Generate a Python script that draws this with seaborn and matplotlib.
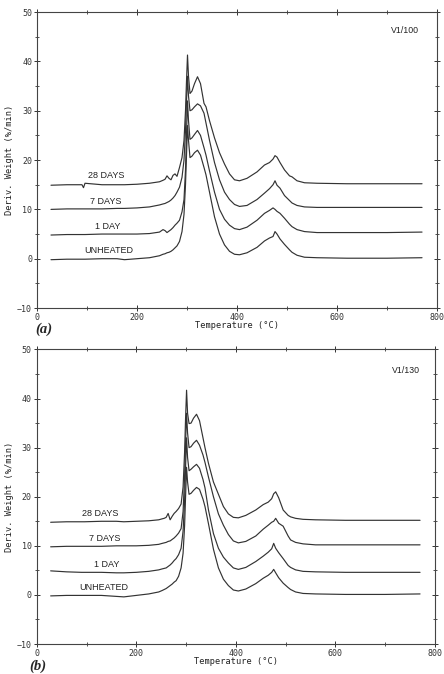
import numpy as np
import pandas as pd
import matplotlib
matplotlib.use("Agg")
import matplotlib.pyplot as plt
import seaborn as sns
from matplotlib.ticker import MultipleLocator

sns.set_style("ticks")
plt.rcParams['font.family'] = ['DejaVu Sans Mono']

# 温度网格 (°C)，两幅图共用
temps = [28, 60, 90, 93, 96, 130, 160, 175, 200, 225, 245, 252, 256, 260, 264, 268,
         272, 276, 280, 285, 290, 294, 297, 299, 301, 303, 306, 310, 315, 321, 327,
         334, 338, 345, 355, 365, 375, 385, 395, 405, 420, 440, 455, 465, 472, 476,
         480, 486, 495, 505, 510, 520, 535, 560, 620, 700, 770]

# (a) V1/100
a_unheated = [-0.2, -0.1, -0.1, -0.1, -0.1, 0.0, 0.0, -0.2, 0.0, 0.2, 0.6, 0.9, 1.0, 1.2, 1.3, 1.5,
              1.8, 2.2, 2.6, 3.5, 5.5, 9, 15, 21, 27, 24, 20.5, 20.8, 21.5, 22.0, 21.0,
              18.5, 17, 13.5, 8.5, 5.0, 2.8, 1.5, 0.9, 0.8, 1.2, 2.3, 3.6, 4.2, 4.5, 5.5,
              5.0, 4.0, 2.9, 1.8, 1.3, 0.7, 0.3, 0.2, 0.1, 0.1, 0.2]
a_1day = [4.8, 4.9, 4.9, 4.9, 4.9, 5.0, 5.0, 5.0, 5.0, 5.1, 5.4, 5.9, 5.7, 5.3, 5.6, 5.9,
          6.3, 6.8, 7.2, 7.8, 9.5, 12, 18, 25, 32, 28, 24.2, 24.5, 25.2, 26.0, 25.0,
          22.5, 21, 17.8, 13.5, 10.0, 8.0, 6.8, 6.1, 5.9, 6.4, 7.8, 9.2, 9.8, 10.3, 10.0,
          9.6, 9.2, 8.2, 7.0, 6.5, 5.9, 5.5, 5.3, 5.3, 5.3, 5.4]
a_7days = [10.0, 10.1, 10.1, 10.1, 10.1, 10.1, 10.2, 10.2, 10.3, 10.5, 10.9, 11.1, 11.2, 11.4, 11.6, 11.9,
           12.3, 12.8, 13.5, 14.5, 16.5, 20, 26, 32, 37, 33, 30, 30.2, 30.8, 31.4, 31.0,
           29.5, 27.5, 24, 19.5, 16, 13.5, 12.0, 11.0, 10.6, 10.8, 12.0, 13.3, 14.2, 15.0, 15.8,
           14.9, 14.3, 12.8, 11.8, 11.3, 10.8, 10.5, 10.4, 10.4, 10.4, 10.4]
a_28days = [14.9, 15.0, 15.0, 14.4, 15.3, 15.0, 15.0, 15.0, 15.1, 15.3, 15.6, 15.9, 16.1, 16.8, 16.3, 16.0,
            16.9, 17.2, 16.7, 18.5, 20.5, 24, 30, 36, 41.3, 37, 33.5, 34, 35.5, 36.9, 35.5,
            31.5, 30.8, 28, 24.5, 21.5, 19.2, 17.2, 16.0, 15.8, 16.3, 17.6, 19.0, 19.5, 20.2, 20.9,
            20.6, 19.5, 18.0, 16.8, 16.6, 15.8, 15.4, 15.3, 15.2, 15.2, 15.2]

# (b) V1/130
b_unheated = [-0.2, -0.1, -0.1, -0.1, -0.1, -0.1, -0.3, -0.4, -0.1, 0.2, 0.6, 0.9, 1.1, 1.3, 1.6, 1.9,
              2.2, 2.6, 2.9, 3.8, 5.5, 8.5, 14, 20, 26, 23, 20.5, 20.7, 21.3, 21.9, 21.5,
              19.5, 18, 14.5, 9.3, 5.5, 3.2, 1.9, 1.0, 0.8, 1.2, 2.3, 3.4, 4.0, 4.6, 5.2,
              4.5, 3.5, 2.4, 1.5, 1.1, 0.6, 0.3, 0.2, 0.1, 0.1, 0.2]
b_1day = [4.9, 4.7, 4.6, 4.6, 4.6, 4.6, 4.5, 4.5, 4.6, 4.8, 5.1, 5.3, 5.4, 5.5, 5.8, 6.1,
          6.5, 7.0, 7.4, 8.2, 9.5, 13, 19, 26, 32, 28, 25.3, 25.6, 26.1, 26.6, 25.8,
          23.5, 21.8, 17.3, 12.5, 9.5, 7.7, 6.5, 5.5, 5.2, 5.6, 6.8, 7.9, 8.7, 9.4, 10.5,
          9.5, 8.6, 7.4, 6.0, 5.6, 5.1, 4.8, 4.7, 4.6, 4.6, 4.6]
b_7days = [9.8, 9.9, 9.9, 9.9, 9.9, 9.9, 10.0, 10.0, 10.0, 10.1, 10.3, 10.5, 10.6, 10.7, 10.9, 11.0,
           11.3, 11.6, 12.0, 12.6, 13.5, 17, 24, 31, 37, 33, 30, 30.2, 30.9, 31.5, 30.5,
           28.5, 27.0, 24.0, 20.0, 16.5, 14.2, 12.3, 11.0, 10.6, 10.9, 12.0, 13.4, 14.2, 14.8, 15.0,
           15.6, 14.6, 14.0, 12.0, 11.2, 10.7, 10.4, 10.2, 10.2, 10.2, 10.2]
b_28days = [14.8, 14.9, 14.9, 14.9, 14.9, 15.0, 15.0, 14.9, 15.0, 15.1, 15.3, 15.5, 15.6, 15.8, 16.6, 15.3,
            16.0, 16.6, 17.0, 17.6, 18.5, 22, 29, 36, 41.7, 37, 34.9, 35.0, 36.0, 36.8, 35.5,
            32.0, 30.0, 26.8, 23.0, 20.5, 18.0, 16.5, 15.8, 15.7, 16.2, 17.3, 18.4, 18.9, 19.6, 20.6,
            21.0, 19.8, 17.3, 16.2, 15.9, 15.6, 15.4, 15.3, 15.2, 15.2, 15.2]

curve_names = ["UNHEATED", "1 DAY", "7 DAYS", "28 DAYS"]
a_label_pos = [(143, 1.6), (141, 6.5), (138, 11.7), (138, 16.8)]
b_label_pos = [(135, 1.5), (140, 6.1), (137, 11.5), (127, 16.5)]

panels = [
    dict(series=[a_unheated, a_1day, a_7days, a_28days], labels=a_label_pos,
         tag="V1/100", tag_pos=(736, 46.2), letter="(a)", letter_pos=(0.098, 0.511),
         rect=[0.0833, 0.543, 0.901, 0.439]),
    dict(series=[b_unheated, b_1day, b_7days, b_28days], labels=b_label_pos,
         tag="V1/130", tag_pos=(742, 45.8), letter="(b)", letter_pos=(0.085, 0.012),
         rect=[0.0827, 0.0445, 0.897, 0.437]),
]

fig = plt.figure(figsize=(4.44, 6.74), dpi=100)
line_col = '#333333'

for p in panels:
    ax = fig.add_axes(p["rect"])
    for name, vals, (lx, ly) in zip(curve_names, p["series"], p["labels"]):
        d = pd.DataFrame({"T": temps, "v": vals})
        sns.lineplot(data=d, x="T", y="v", ax=ax, color=line_col, lw=0.85, sort=False)
        ax.text(lx, ly, name, ha='center', va='center', fontsize=6.5,
                family='Liberation Sans', color='#222222')
    ax.text(p["tag_pos"][0], p["tag_pos"][1], p["tag"], ha='center', va='center',
            fontsize=6.3, family='Liberation Sans', color='#222222')

    ax.set_xlim(0, 800)
    ax.set_ylim(-10, 50)
    ax.xaxis.set_major_locator(MultipleLocator(200))
    ax.xaxis.set_minor_locator(MultipleLocator(100))
    ax.yaxis.set_major_locator(MultipleLocator(10))
    ax.yaxis.set_minor_locator(MultipleLocator(5))
    ax.tick_params(which='major', direction='inout', length=4, width=0.7,
                   labelsize=6, pad=1.5, colors='#333333', top=True, right=True)
    ax.tick_params(which='minor', direction='inout', length=2.5, width=0.6,
                   colors='#333333', top=True, right=True)
    for s in ax.spines.values():
        s.set_color('#444444')
        s.set_linewidth(0.8)

    ax.set_xlabel("Temperature (°C)", fontsize=6.2, color='#222222')
    ax.set_ylabel("Deriv. Weight (%/min)", fontsize=6.2, color='#222222')
    ax.xaxis.set_label_coords(0.5, -0.045)
    ax.yaxis.set_label_coords(-0.058, 0.5)

    fig.text(p["letter_pos"][0], p["letter_pos"][1], p["letter"], ha='center', va='center',
             fontsize=10.5, family='Liberation Serif', weight='bold', style='italic')

fig.savefig("out.png", dpi=100)
